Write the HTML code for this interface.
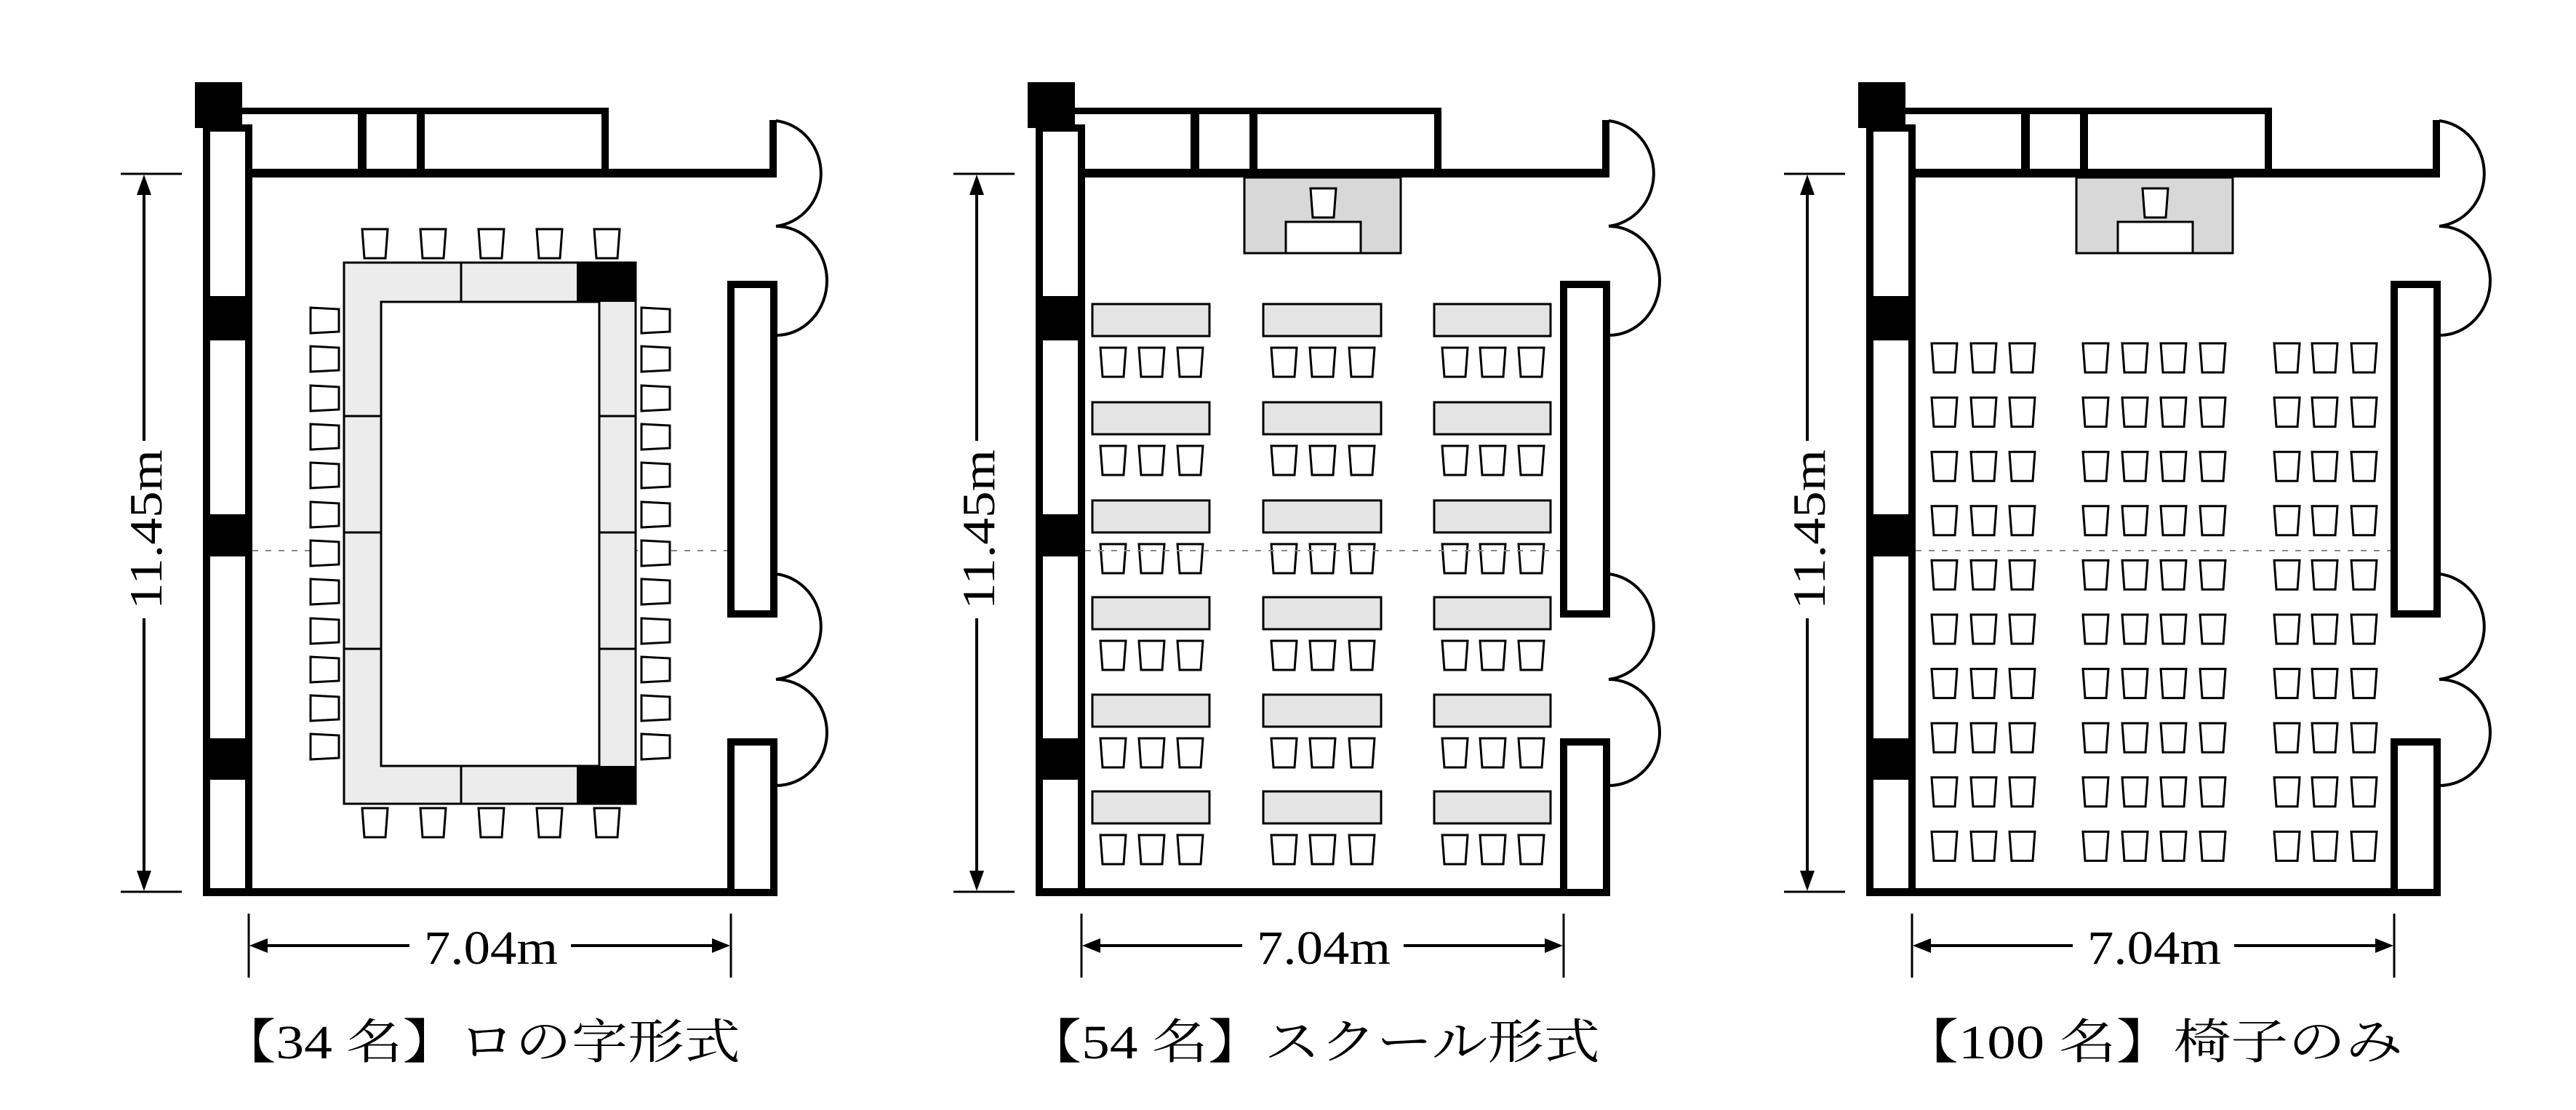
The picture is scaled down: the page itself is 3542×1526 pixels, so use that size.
<!DOCTYPE html>
<html><head><meta charset="utf-8"><style>html,body{margin:0;padding:0;background:#fff}svg{display:block}</style></head>
<body>
<svg width="3542" height="1526" viewBox="0 0 3542 1526" xmlns="http://www.w3.org/2000/svg">
<defs>
<g id="base">
  <rect x="268" y="113" width="65" height="63" fill="#000"/>
  <rect x="284" y="176" width="58" height="1051" fill="#fff" stroke="#000" stroke-width="10"/>
  <rect x="279" y="407" width="68" height="61" fill="#000"/>
  <rect x="279" y="707" width="68" height="58" fill="#000"/>
  <rect x="279" y="1015" width="68" height="57" fill="#000"/>
  <rect x="333" y="148" width="504" height="9" fill="#000"/>
  <rect x="347" y="232" width="720" height="12" fill="#000"/>
  <rect x="492" y="148" width="12" height="96" fill="#000"/>
  <rect x="573" y="148" width="11" height="96" fill="#000"/>
  <rect x="827" y="148" width="10" height="96" fill="#000"/>
  <rect x="1058" y="165" width="10" height="79" fill="#000"/>
  <rect x="279" y="1221" width="790" height="11" fill="#000"/>
  <rect x="1005" y="391" width="59" height="453" fill="#fff" stroke="#000" stroke-width="10"/>
  <rect x="1005" y="1020" width="59" height="207" fill="#fff" stroke="#000" stroke-width="10"/>
  <path d="M1067 166 A70 73 0 0 1 1067 311 A70 75 0 0 1 1067 461" fill="none" stroke="#000" stroke-width="4"/>
  <path d="M1067 789 A70 73 0 0 1 1067 934 A70 73 0 0 1 1067 1080" fill="none" stroke="#000" stroke-width="4"/>
  <line x1="166" y1="239" x2="250" y2="239" stroke="#000" stroke-width="3"/>
  <line x1="166" y1="1226" x2="250" y2="1226" stroke="#000" stroke-width="3"/>
  <line x1="198" y1="250" x2="198" y2="606" stroke="#000" stroke-width="4"/>
  <line x1="198" y1="850" x2="198" y2="1215" stroke="#000" stroke-width="4"/>
  <polygon points="198,240 188,268 208,268" fill="#000"/>
  <polygon points="198,1225 188,1197 208,1197" fill="#000"/>
  <text x="0" y="0" transform="translate(222,728) rotate(-90)" font-family="Liberation Serif, serif" font-size="64" text-anchor="middle" textLength="220" lengthAdjust="spacingAndGlyphs">11.45m</text>
  <line x1="342" y1="1256" x2="342" y2="1344" stroke="#000" stroke-width="3"/>
  <line x1="1005" y1="1256" x2="1005" y2="1344" stroke="#000" stroke-width="3"/>
  <line x1="350" y1="1300" x2="563" y2="1300" stroke="#000" stroke-width="4"/>
  <line x1="785" y1="1300" x2="997" y2="1300" stroke="#000" stroke-width="4"/>
  <polygon points="343,1300 368,1290 368,1310" fill="#000"/>
  <polygon points="1004,1300 979,1290 979,1310" fill="#000"/>
  <text x="675" y="1325" font-family="Liberation Serif, serif" font-size="66" text-anchor="middle" textLength="184" lengthAdjust="spacingAndGlyphs">7.04m</text>
</g>
<polygon id="ch" points="0,0 35,0 32,40 3,40" fill="#fff" stroke="#000" stroke-width="3"/>
<polygon id="chl" points="0,0 39,2 39,33 0,35" fill="#fff" stroke="#000" stroke-width="3"/>
</defs>

<use href="#base"/>
<line x1="347" y1="757" x2="1000" y2="757" stroke="#888" stroke-width="2" stroke-dasharray="8 10"/>
<g stroke="#000" stroke-width="3">
  <rect x="473" y="361" width="401" height="744" fill="#ececec"/>
  <rect x="524" y="415" width="300" height="638" fill="#fff"/>
  <line x1="634" y1="361" x2="634" y2="415"/>
  <line x1="634" y1="1053" x2="634" y2="1105"/>
  <line x1="473" y1="572" x2="524" y2="572"/><line x1="473" y1="732" x2="524" y2="732"/><line x1="473" y1="892" x2="524" y2="892"/>
  <line x1="824" y1="572" x2="874" y2="572"/><line x1="824" y1="732" x2="874" y2="732"/><line x1="824" y1="892" x2="874" y2="892"/>
</g>
<rect x="793" y="361" width="81" height="54" fill="#000"/>
<rect x="793" y="1053" width="81" height="52" fill="#000"/>
<g>
  <use href="#ch" x="498" y="315"/><use href="#ch" x="578" y="315"/><use href="#ch" x="658" y="315"/><use href="#ch" x="738" y="315"/><use href="#ch" x="817" y="315"/>
  <use href="#ch" x="498" y="1111"/><use href="#ch" x="578" y="1111"/><use href="#ch" x="658" y="1111"/><use href="#ch" x="738" y="1111"/><use href="#ch" x="817" y="1111"/>
  <use href="#chl" x="427" y="423"/><use href="#chl" x="427" y="476"/><use href="#chl" x="427" y="530"/><use href="#chl" x="427" y="583"/><use href="#chl" x="427" y="636"/><use href="#chl" x="427" y="690"/><use href="#chl" x="427" y="743"/><use href="#chl" x="427" y="796"/><use href="#chl" x="427" y="850"/><use href="#chl" x="427" y="903"/><use href="#chl" x="427" y="956"/><use href="#chl" x="427" y="1009"/>
  <use href="#chl" x="882" y="423"/><use href="#chl" x="882" y="476"/><use href="#chl" x="882" y="530"/><use href="#chl" x="882" y="583"/><use href="#chl" x="882" y="636"/><use href="#chl" x="882" y="690"/><use href="#chl" x="882" y="743"/><use href="#chl" x="882" y="796"/><use href="#chl" x="882" y="850"/><use href="#chl" x="882" y="903"/><use href="#chl" x="882" y="956"/><use href="#chl" x="882" y="1009"/>
</g>
<text x="660" y="1455" font-family="Liberation Serif, Noto Serif CJK SC, serif" font-size="66" text-anchor="middle" textLength="716" lengthAdjust="spacingAndGlyphs">【34 名】ロの字形式</text>

<g transform="translate(1145,0)">
  <use href="#base"/>
  <rect x="566" y="244" width="215" height="104" fill="#d8d8d8" stroke="#000" stroke-width="3"/>
  <use href="#ch" x="657" y="259"/>
  <rect x="623" y="305" width="103" height="43" fill="#fff" stroke="#000" stroke-width="3"/>
  <g id="srow">
    <rect x="357" y="418" width="161" height="44" fill="#e4e4e4" stroke="#000" stroke-width="3"/>
    <rect x="592" y="418" width="162" height="44" fill="#e4e4e4" stroke="#000" stroke-width="3"/>
    <rect x="827" y="418" width="160" height="44" fill="#e4e4e4" stroke="#000" stroke-width="3"/>
    <use href="#ch" x="368" y="478"/><use href="#ch" x="421" y="478"/><use href="#ch" x="474" y="478"/>
    <use href="#ch" x="603" y="478"/><use href="#ch" x="656" y="478"/><use href="#ch" x="710" y="478"/>
    <use href="#ch" x="838" y="478"/><use href="#ch" x="890" y="478"/><use href="#ch" x="943" y="478"/>
  </g>
  <use href="#srow" y="135"/>
  <use href="#srow" y="270"/>
  <use href="#srow" y="403"/>
  <use href="#srow" y="537"/>
  <use href="#srow" y="670"/>
  <line x1="347" y1="757" x2="1000" y2="757" stroke="#888" stroke-width="2" stroke-dasharray="8 10"/>
  <text x="660" y="1455" font-family="Liberation Serif, Noto Serif CJK SC, serif" font-size="66" text-anchor="middle" textLength="790" lengthAdjust="spacingAndGlyphs">【54 名】スクール形式</text>
</g>

<g transform="translate(2287,0)">
  <use href="#base"/>
  <rect x="568" y="244" width="215" height="104" fill="#d8d8d8" stroke="#000" stroke-width="3"/>
  <use href="#ch" x="659" y="259"/>
  <rect x="625" y="305" width="103" height="43" fill="#fff" stroke="#000" stroke-width="3"/>
  <g id="crow">
    <use href="#ch" x="369" y="472"/><use href="#ch" x="423" y="472"/><use href="#ch" x="476" y="472"/>
    <use href="#ch" x="577" y="472"/><use href="#ch" x="631" y="472"/><use href="#ch" x="684" y="472"/><use href="#ch" x="738" y="472"/>
    <use href="#ch" x="840" y="472"/><use href="#ch" x="892" y="472"/><use href="#ch" x="946" y="472"/>
  </g>
  <use href="#crow" y="74.6"/><use href="#crow" y="149.2"/><use href="#crow" y="223.8"/><use href="#crow" y="298.4"/>
  <use href="#crow" y="373"/><use href="#crow" y="447.6"/><use href="#crow" y="522.2"/><use href="#crow" y="596.8"/><use href="#crow" y="671.4"/>
  <line x1="347" y1="757" x2="1000" y2="757" stroke="#888" stroke-width="2" stroke-dasharray="8 10"/>
  <text x="672" y="1455" font-family="Liberation Serif, Noto Serif CJK SC, serif" font-size="66" text-anchor="middle" textLength="690" lengthAdjust="spacingAndGlyphs">【100 名】椅子のみ</text>
</g>
</svg>
</body></html>
